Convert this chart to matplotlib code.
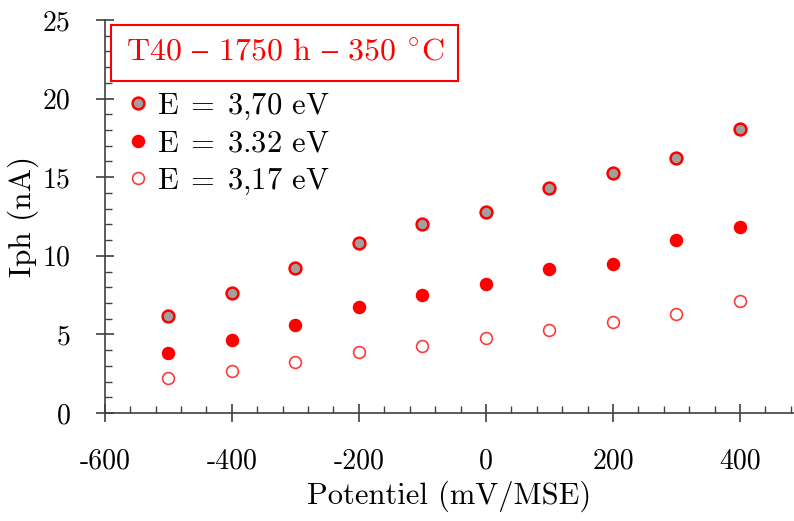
import matplotlib
matplotlib.use("Agg")
import matplotlib.pyplot as plt
from matplotlib.ticker import MultipleLocator, FixedLocator, FixedFormatter

plt.rcParams['font.family'] = ['cmr10', 'DejaVu Serif']
plt.rcParams['mathtext.fontset'] = 'cm'
plt.rcParams['axes.formatter.use_mathtext'] = True
plt.rcParams['axes.unicode_minus'] = False

potentiel = [-500, -400, -300, -200, -100, 0, 100, 200, 300, 400]
iph_370 = [6.17, 7.62, 9.22, 10.8, 12.0, 12.8, 14.3, 15.27, 16.2, 18.05]
iph_332 = [3.81, 4.64, 5.57, 6.73, 7.5, 8.2, 9.14, 9.5, 11.0, 11.85]
iph_317 = [2.22, 2.67, 3.22, 3.86, 4.28, 4.77, 5.28, 5.79, 6.32, 7.14]

labels = [r"$\mathrm{E}\;=\;3{,}70$ eV", r"$\mathrm{E}\;=\;3.32$ eV", r"$\mathrm{E}\;=\;3{,}17$ eV"]
title = "T40 $\u2013$ 1750 h $\u2013$ 350 $^{\\circ}$C"

x_ticks = [-600, -400, -200, 0, 200, 400]
x_tick_labels = ["-600", "-400", "-200", "0", "200", "400"]
y_ticks = [0, 5, 10, 15, 20, 25]
y_tick_labels = ["0", "5", "10", "15", "20", "25"]

fig = plt.figure(figsize=(7.94, 5.21), dpi=100)
ax = fig.add_axes([0.132, 0.2073, 0.868, 0.7543])

ms = 8.5
ax.plot(potentiel, iph_370, 'o', ms=ms, mfc='#a0a0a0', mec='red', mew=1.8, label=labels[0], clip_on=False)
ax.plot(potentiel, iph_332, 'o', ms=ms, mfc='red', mec='red', mew=1.2, label=labels[1], clip_on=False)
ax.plot(potentiel, iph_317, 'o', ms=ms, mfc='white', mec='#ff3a3a', mew=1.2, label=labels[2], clip_on=False)

ax.set_xlim(-600, 485)
ax.set_ylim(0, 25)

ax.spines['top'].set_visible(False)
ax.spines['right'].set_visible(False)
for s in ('left', 'bottom'):
    ax.spines[s].set_color('#404040')
    ax.spines[s].set_linewidth(1.2)

ax.xaxis.set_major_locator(FixedLocator(x_ticks))
ax.xaxis.set_major_formatter(FixedFormatter(x_tick_labels))
ax.yaxis.set_major_locator(FixedLocator(y_ticks))
ax.yaxis.set_major_formatter(FixedFormatter(y_tick_labels))
ax.xaxis.set_minor_locator(MultipleLocator(40))
ax.yaxis.set_minor_locator(MultipleLocator(1))

ax.tick_params(which='major', direction='inout', length=13, width=1.2, color='#404040', labelsize=20)
ax.tick_params(axis='x', which='major', pad=19)
ax.tick_params(axis='y', which='major', pad=18)
ax.tick_params(which='minor', direction='in', length=5, width=1.0, color='#404040')

ax.set_xlabel("Potentiel (mV/MSE)", fontsize=22, labelpad=4)
ax.set_ylabel("Iph (nA)", fontsize=22.5, labelpad=3)

ax.text(0.261, 0.916, title, transform=ax.transAxes, ha='center', va='center',
        fontsize=23, color='red',
        bbox=dict(boxstyle='square,pad=0.45', fc='white', ec='red', lw=1.5))

leg = ax.legend(loc='upper left', bbox_to_anchor=(0.0, 0.858), frameon=False,
                fontsize=22, handletextpad=0.0, handlelength=1.2, borderpad=0.2,
                labelspacing=0.28, borderaxespad=0.3)

fig.savefig("out.png", dpi=100)
